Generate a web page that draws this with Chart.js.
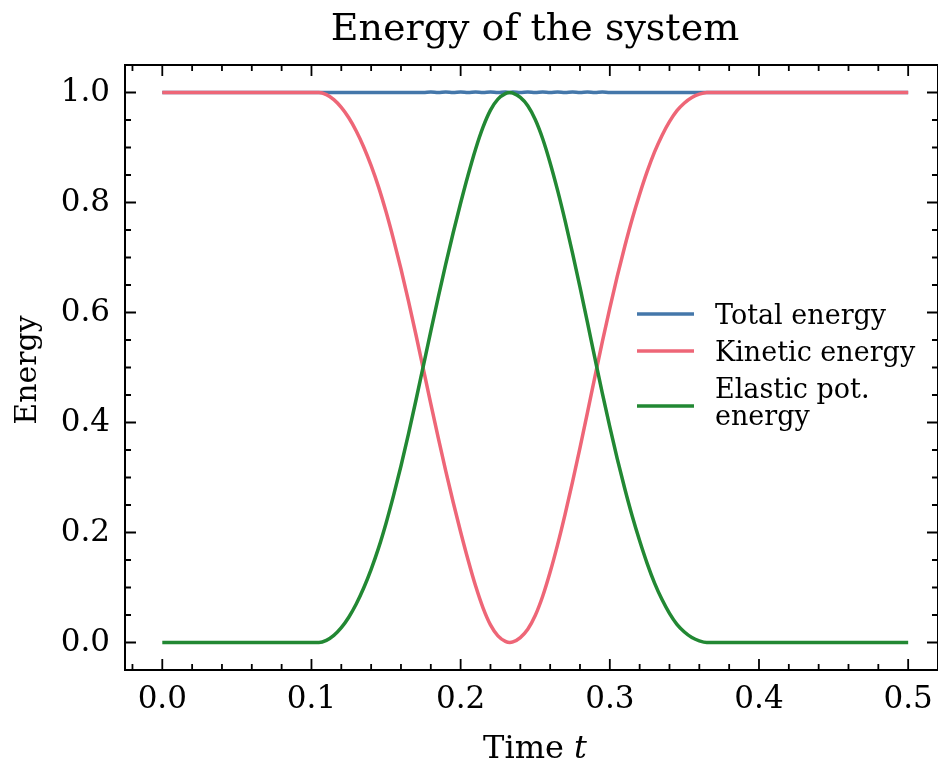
<!DOCTYPE html>
<html>
<head>
<meta charset="utf-8">
<script src="https://cdn.jsdelivr.net/npm/chart.js@4.4.1/dist/chart.umd.min.js"></script>
<style>
  html, body { margin: 0; padding: 0; background: #fff; }
</style>
</head>
<body>
<canvas id="energyChart" width="938" height="764"></canvas>
<script>
// values
var times = [0, 0.025, 0.05, 0.075, 0.1,
  0.105, 0.11, 0.115, 0.12, 0.125, 0.13, 0.135, 0.14, 0.145, 0.15, 0.155, 0.16, 0.165, 0.17, 0.175,
  0.18, 0.185, 0.19, 0.195, 0.2, 0.205, 0.21, 0.215, 0.22, 0.225, 0.23, 0.233,
  0.235, 0.24, 0.245, 0.25, 0.255, 0.26, 0.265, 0.27, 0.275, 0.28, 0.285, 0.29, 0.295, 0.3,
  0.305, 0.31, 0.315, 0.32, 0.325, 0.33, 0.335, 0.34, 0.345, 0.35, 0.355, 0.36, 0.365,
  0.4, 0.45, 0.5];

var totalEnergy = [1, 1, 1, 1, 1,
  1, 1, 1, 1, 1, 1, 1, 1, 1, 1, 1, 1, 1, 1, 1,
  1.001, 1.000, 1.001, 1.000, 1.001, 1.000, 1.001, 1.000, 1.001, 1.000, 1.001, 1.000,
  1.001, 1.000, 1.001, 1.000, 1.001, 1.000, 1.001, 1.000, 1.001, 1.000, 1.001, 1.000, 1.001, 1.000,
  1, 1, 1, 1, 1, 1, 1, 1, 1, 1, 1, 1, 1,
  1, 1, 1];

var kineticEnergy = [1, 1, 1, 1, 1,
  1.000, 0.996, 0.987, 0.973, 0.954, 0.930, 0.901, 0.867, 0.828, 0.783, 0.733, 0.679, 0.621, 0.560, 0.497,
  0.434, 0.372, 0.312, 0.255, 0.201, 0.150, 0.103, 0.063, 0.032, 0.012, 0.002, 0.000,
  0.001, 0.009, 0.024, 0.049, 0.084, 0.128, 0.178, 0.233, 0.292, 0.354, 0.418, 0.483, 0.547, 0.608,
  0.666, 0.720, 0.770, 0.815, 0.856, 0.892, 0.922, 0.947, 0.967, 0.981, 0.991, 0.997, 1.000,
  1, 1, 1];

var elasticEnergy = [0, 0, 0, 0, 0,
  0.000, 0.004, 0.013, 0.027, 0.046, 0.070, 0.099, 0.133, 0.172, 0.217, 0.267, 0.321, 0.379, 0.440, 0.503,
  0.566, 0.628, 0.688, 0.745, 0.799, 0.850, 0.897, 0.937, 0.968, 0.988, 0.998, 1.000,
  0.999, 0.991, 0.976, 0.951, 0.916, 0.872, 0.822, 0.767, 0.708, 0.646, 0.582, 0.517, 0.453, 0.392,
  0.334, 0.280, 0.230, 0.185, 0.144, 0.108, 0.078, 0.053, 0.033, 0.019, 0.009, 0.003, 0.000,
  0, 0, 0];

var seriesNames = ['Total energy', 'Kinetic energy', 'Elastic pot. energy'];
var seriesColors = ['#4477AA', '#EE6677', '#228833'];
var xTicks = [0, 0.1, 0.2, 0.3, 0.4, 0.5];
var yTicks = [0, 0.2, 0.4, 0.6, 0.8, 1.0];

var serif = '"DejaVu Serif", "Liberation Serif", serif';

function points(values) {
  return times.map(function(t, i) { return { x: t, y: values[i] }; });
}

// frame, inward ticks, title, axis titles and legend in matplotlib style
var scienceStyle = {
  id: 'scienceStyle',
  afterDraw: function(chart) {
    var ctx = chart.ctx;
    var a = chart.chartArea;
    var xs = chart.scales.x, ys = chart.scales.y;
    ctx.save();
    ctx.strokeStyle = '#000';
    ctx.lineCap = 'butt';

    // ticks
    ctx.lineWidth = 1.8;
    ctx.beginPath();
    var v, p, k;
    for (k = -1; k <= 26; k++) {
      v = k * 0.02;
      p = xs.getPixelForValue(v);
      if (p < a.left || p > a.right) continue;
      var len = (k % 5 === 0) ? 11 : 6;
      ctx.moveTo(p, a.bottom); ctx.lineTo(p, a.bottom - len);
      ctx.moveTo(p, a.top); ctx.lineTo(p, a.top + len);
    }
    for (k = -1; k <= 21; k++) {
      v = k * 0.05;
      p = ys.getPixelForValue(v);
      if (p < a.top - 1 || p > a.bottom + 1) continue;
      var ylen = (k % 4 === 0) ? 11 : 6;
      ctx.moveTo(a.left, p); ctx.lineTo(a.left + ylen, p);
      ctx.moveTo(a.right, p); ctx.lineTo(a.right - ylen, p);
    }
    ctx.stroke();

    // frame
    ctx.lineWidth = 2;
    ctx.strokeRect(a.left, a.top, a.right - a.left, a.bottom - a.top);

    // title
    ctx.fillStyle = '#000';
    ctx.textAlign = 'center';
    ctx.textBaseline = 'alphabetic';
    ctx.font = '38px ' + serif;
    ctx.fillText('Energy of the system', 535, 40);

    // x axis title with italic t
    ctx.font = '32px ' + serif;
    var w1 = ctx.measureText('Time ').width;
    ctx.font = 'italic 32px ' + serif;
    var w2 = ctx.measureText('t').width;
    var x0 = 535 - (w1 + w2) / 2;
    ctx.textAlign = 'left';
    ctx.font = '32px ' + serif;
    ctx.fillText('Time ', x0, 758);
    ctx.font = 'italic 32px ' + serif;
    ctx.fillText('t', x0 + w1, 758);

    // y axis title
    ctx.save();
    ctx.translate(36, 370);
    ctx.rotate(-Math.PI / 2);
    ctx.textAlign = 'center';
    ctx.font = '30px ' + serif;
    ctx.fillText('Energy', 0, 0);
    ctx.restore();

    // legend
    var rows = [
      { line: 314, text: [[seriesNames[0], 324]] },
      { line: 351, text: [[seriesNames[1], 361]] },
      { line: 406, text: [['Elastic pot.', 398], ['energy', 425]] }
    ];
    ctx.font = '27px ' + serif;
    ctx.textAlign = 'left';
    ctx.lineWidth = 3.5;
    rows.forEach(function(r, i) {
      ctx.strokeStyle = seriesColors[i];
      ctx.beginPath();
      ctx.moveTo(637, r.line);
      ctx.lineTo(694, r.line);
      ctx.stroke();
      r.text.forEach(function(t) { ctx.fillText(t[0], 715, t[1]); });
    });
    ctx.restore();
  }
};

var ctx = document.getElementById('energyChart').getContext('2d');

var energyChart = new Chart(ctx, {
  type: 'line',
  data: {
    datasets: [{
      label: seriesNames[0],
      data: points(totalEnergy),
      borderColor: seriesColors[0],
      order: 3
    }, {
      label: seriesNames[1],
      data: points(kineticEnergy),
      borderColor: seriesColors[1],
      order: 2
    }, {
      label: seriesNames[2],
      data: points(elasticEnergy),
      borderColor: seriesColors[2],
      order: 1
    }]
  },
  options: {
    responsive: false,
    animation: false,
    devicePixelRatio: 1,
    layout: { padding: { top: 65, right: 0, bottom: 0, left: 0 } },
    elements: {
      point: { radius: 0 },
      line: { borderWidth: 3.5, cubicInterpolationMode: 'monotone', fill: false }
    },
    plugins: {
      legend: { display: false },
      title: { display: false },
      tooltip: { enabled: false }
    },
    scales: {
      x: {
        type: 'linear',
        min: -0.025,
        max: 0.52,
        grid: { display: false, drawTicks: false },
        border: { display: false },
        ticks: {
          color: '#000',
          font: { family: serif, size: 31 },
          padding: 11,
          maxRotation: 0,
          callback: function(v) { return v.toFixed(1); }
        },
        afterBuildTicks: function(s) { s.ticks = xTicks.map(function(v) { return { value: v }; }); },
        afterFit: function(s) { s.height = 94; s.paddingLeft = 0; s.paddingRight = 0; }
      },
      y: {
        type: 'linear',
        min: -0.05,
        max: 1.05,
        grid: { display: false, drawTicks: false },
        border: { display: false },
        ticks: {
          color: '#000',
          font: { family: serif, size: 31 },
          padding: 15,
          callback: function(v) { return v.toFixed(1); }
        },
        afterBuildTicks: function(s) { s.ticks = yTicks.map(function(v) { return { value: v }; }); },
        afterFit: function(s) { s.width = 125; s.paddingTop = 0; s.paddingBottom = 0; }
      }
    }
  },
  plugins: [scienceStyle]
});
</script>
</body>
</html>
